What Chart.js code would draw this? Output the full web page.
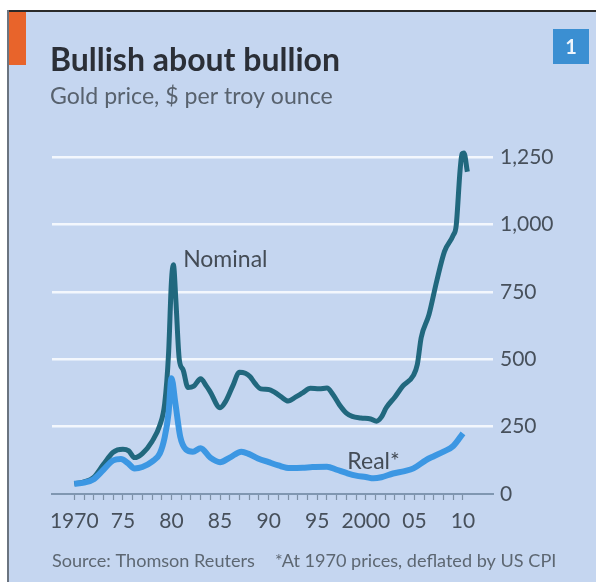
<!DOCTYPE html>
<html>
<head>
<meta charset="utf-8">
<script src="https://cdn.jsdelivr.net/npm/chart.js@4.4.1/dist/chart.umd.min.js"></script>
<style>
    html, body { margin: 0; padding: 0; background: #ffffff; }
    #wrap { width: 598px; height: 582px; position: relative; }
</style>
</head>
<body>
<div id="wrap"><canvas id="GoldChart"></canvas></div>
<script>
// Gold price, $ per troy ounce
const nominalYears = [1970, 1971, 1972, 1973, 1974, 1975, 1975.6, 1976.2, 1977, 1978, 1978.8, 1979.3, 1979.7, 1980, 1980.2,
    1980.45, 1980.8, 1981.2, 1981.7, 1982.3, 1983, 1983.6, 1984, 1985, 1985.6, 1986.3, 1987, 1987.6, 1988.1, 1988.6,
    1989.2, 1990, 1990.6, 1991.3, 1992, 1992.8, 1993.5, 1994.3, 1995.2, 1996, 1996.6, 1997.3, 1998, 1998.6, 1999.5,
    2000.5, 2001.1, 2001.6, 2002.1, 2003, 2003.8, 2004.9, 2005.3, 2005.7, 2006.5, 2007.3, 2008.1, 2009, 2009.3,
    2009.7, 2009.9, 2010.1, 2010.45];
const nominalPrice = [38, 45, 62, 110, 155, 166, 160, 135, 150, 195, 255, 335, 520, 790, 850,
    720, 500, 460, 395, 400, 427, 400, 378, 320, 345, 400, 452, 448, 435, 410,
    390, 388, 378, 360, 345, 360, 375, 392, 390, 393, 370, 330, 300, 288, 282,
    278, 270, 285, 320, 360, 400, 440, 480, 580, 665, 790, 900, 960, 995,
    1200, 1262, 1265, 1195];

// Real price, at 1970 prices
const realYears = [1970, 1971, 1972, 1973, 1974, 1974.8, 1975.5, 1976.2, 1977, 1978, 1978.8, 1979.3, 1979.7, 1980,
    1980.4, 1980.9, 1981.5, 1982.2, 1983, 1984, 1985, 1986, 1987.2, 1988, 1988.9, 1990, 1991, 1992.2, 1993.5,
    1994.5, 1996, 1997, 1998, 1999, 2000, 2000.8, 2001.6, 2002.8, 2004, 2004.9, 2006.2, 2007, 2008, 2009, 2010];
const realPrice = [38, 42, 55, 90, 125, 130, 115, 95, 100, 120, 150, 210, 300, 429,
    337, 213, 165, 157, 170, 135, 118, 135, 157, 148, 132, 118, 106, 96, 97,
    100, 101, 90, 78, 68, 63, 58, 62, 76, 85, 95, 126, 140, 157, 178, 225];

const yTickValues = [0, 250, 500, 750, 1000, 1250];
const xLabelYears = [1970, 1975, 1980, 1985, 1990, 1995, 2000, 2005, 2010];
const xLabelText = ['1970', '75', '80', '85', '90', '95', '2000', '05', '10'];

const FONT = "Lato, 'Open Sans', sans-serif";
const LABEL_COLOR = "#47505b";

function fitFont(ctx, text, weight, width) {
    ctx.font = weight + " 100px " + FONT;
    return 100 * width / ctx.measureText(text).width;
}

const framePlugin = {
    id: "frame",
    beforeDraw(chart) {
        const ctx = chart.ctx;
        ctx.save();
        ctx.fillStyle = "#ffffff";
        ctx.fillRect(0, 0, chart.width, chart.height);
        ctx.fillStyle = "#c5d6f0";
        ctx.fillRect(8, 11, 588, 571);
        // border
        ctx.fillStyle = "#2a2a2a";
        ctx.fillRect(8, 10, 588, 2);
        ctx.fillStyle = "#6b7480";
        ctx.fillRect(7, 10, 2, 572);
        // orange tag
        ctx.fillStyle = "#e8642b";
        ctx.fillRect(9, 12, 17, 53);
        // number box
        ctx.fillStyle = "#3b8fd2";
        ctx.fillRect(553, 29, 36, 35);
        ctx.fillStyle = "#eef5fc";
        ctx.font = "bold 20px " + FONT;
        ctx.textAlign = "center";
        ctx.textBaseline = "alphabetic";
        ctx.fillText("1", 571, 54);

        ctx.textAlign = "left";
        let size = fitFont(ctx, "Bullish about bullion", "bold", 290);
        ctx.font = "bold " + size + "px " + FONT;
        ctx.fillStyle = "#2b2f37";
        ctx.fillText("Bullish about bullion", 50, 71);

        size = fitFont(ctx, "Gold price, $ per troy ounce", "normal", 283);
        ctx.font = size + "px " + FONT;
        ctx.fillStyle = "#58626e";
        ctx.fillText("Gold price, $ per troy ounce", 50, 104);

        size = fitFont(ctx, "Source: Thomson Reuters", "normal", 203);
        ctx.font = size + "px " + FONT;
        ctx.fillStyle = "#5d6772";
        ctx.fillText("Source: Thomson Reuters", 52, 567);
        ctx.fillText("*At 1970 prices, deflated by US CPI", 275, 567);
        ctx.restore();
    },
    afterDatasetsDraw(chart) {
        const ctx = chart.ctx;
        const x = chart.scales.x;
        const y = chart.scales.y;
        ctx.save();
        ctx.fillStyle = "#444c56";
        ctx.font = "23px " + FONT;
        ctx.textAlign = "left";
        ctx.textBaseline = "middle";
        ctx.fillText("Nominal", x.getPixelForValue(1981.2), y.getPixelForValue(868));
        ctx.fillText("Real*", x.getPixelForValue(1998.1), y.getPixelForValue(122));
        ctx.restore();
    }
};

const ctx = document.getElementById("GoldChart").getContext("2d");

new Chart(ctx, {
    type: "line",
    data: {
        datasets: [
            {
                label: "Real*",
                data: realYears.map((yr, i) => ({ x: yr, y: realPrice[i] })),
                borderColor: "#3c97e3",
                borderWidth: 6,
                pointRadius: 0,
                cubicInterpolationMode: "monotone",
                borderJoinStyle: "round",
                order: 0
            },
            {
                label: "Nominal",
                data: nominalYears.map((yr, i) => ({ x: yr, y: nominalPrice[i] })),
                borderColor: "#21687e",
                borderWidth: 5,
                pointRadius: 0,
                cubicInterpolationMode: "monotone",
                borderJoinStyle: "round",
                order: 1
            }
        ]
    },
    options: {
        responsive: true,
        maintainAspectRatio: false,
        animation: false,
        layout: {
            padding: { left: 52, top: 143.5, right: 0, bottom: 0 }
        },
        plugins: {
            legend: { display: false },
            tooltip: { enabled: false }
        },
        scales: {
            x: {
                type: "linear",
                min: 1967.705,
                max: 2013.09,
                afterBuildTicks: function(scale) {
                    const t = [];
                    for (let yr = 1970; yr <= 2010; yr++) t.push({ value: yr });
                    scale.ticks = t;
                },
                afterFit: function(scale) {
                    scale.height = 88;
                },
                ticks: {
                    autoSkip: false,
                    maxRotation: 0,
                    padding: 9,
                    color: LABEL_COLOR,
                    font: { family: FONT, size: 21 },
                    callback: function(value) {
                        const i = xLabelYears.indexOf(value);
                        return i >= 0 ? xLabelText[i] : "";
                    }
                },
                grid: {
                    drawOnChartArea: false,
                    tickLength: 6,
                    tickWidth: 1.2,
                    tickColor: "#7e90a6"
                },
                border: {
                    color: "#8097b1",
                    width: 2
                }
            },
            y: {
                position: "right",
                min: 0,
                max: 1300,
                afterBuildTicks: function(scale) {
                    scale.ticks = yTickValues.map(v => ({ value: v }));
                },
                afterFit: function(scale) {
                    scale.width = 105;
                },
                ticks: {
                    padding: 7,
                    color: LABEL_COLOR,
                    font: { family: FONT, size: 21 },
                    callback: function(value) {
                        return value.toLocaleString("en-US");
                    }
                },
                grid: {
                    drawTicks: false,
                    lineWidth: 2.5,
                    color: function(c) {
                        return c.tick && c.tick.value === 0 ? "rgba(0,0,0,0)" : "#f3f7fd";
                    }
                },
                border: { display: false }
            }
        }
    },
    plugins: [framePlugin]
});
</script>
</body>
</html>
